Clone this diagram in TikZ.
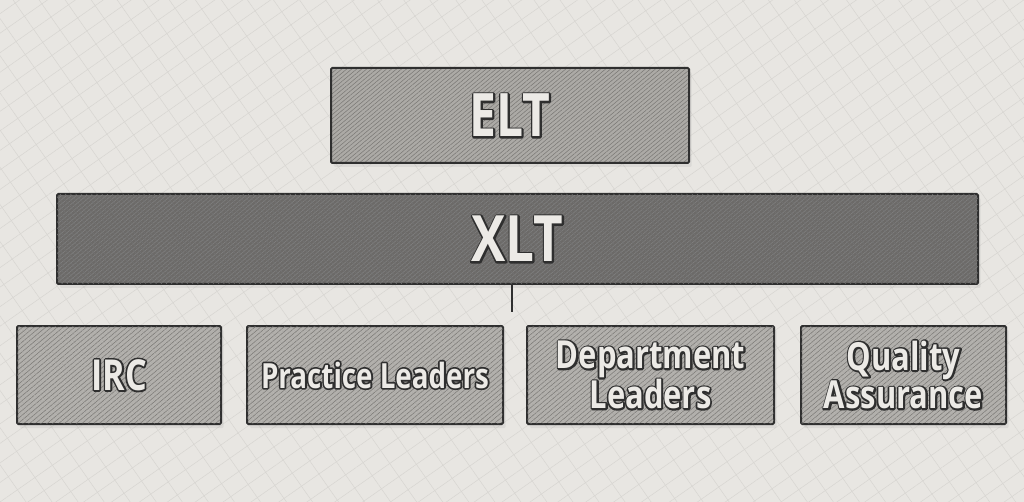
\documentclass[tikz,border=0pt]{standalone}
\usepackage{fontspec}
\setmainfont[FakeStretch=0.8]{Open Sans}
\usetikzlibrary{patterns.meta,shadows}
\definecolor{bgc}{HTML}{E8E6E2}
\definecolor{bgline}{HTML}{D8D6D2}
\definecolor{lightbox}{HTML}{B2B0AC}
\definecolor{midbox}{HTML}{ACAAA6}
\definecolor{darkbox}{HTML}{6C6A68}
\definecolor{edge}{HTML}{2F2F2F}
\definecolor{txt}{HTML}{ECEAE6}
\definecolor{hatch}{HTML}{7A7875}
\newcommand{\outl}[1]{\makebox[0pt][l]{\color{edge}\special{pdf:literal direct 2.6 w 1 j 2 Tr}#1\special{pdf:literal direct 0 Tr}}{\color{txt}#1}}
\tikzset{
  x=0.75pt, y=-0.75pt,
  box/.style={draw=edge, line width=1.5pt, rounded corners=1pt, inner sep=0pt, outer sep=0pt,
    align=center, font=\bfseries,
    drop shadow={opacity=0.12, shadow xshift=2pt, shadow yshift=-3pt}},
  eltbox/.style={box, preaction={fill=midbox},
    pattern={Lines[angle=40,distance=2.4pt,line width=0.4pt]}, pattern color=hatch},
  xltbox/.style={box, preaction={fill=darkbox},
    postaction={pattern={Lines[angle=-50,distance=3pt,line width=0.35pt]}, pattern color=black!55},
    pattern={Lines[angle=40,distance=2.4pt,line width=0.45pt]}, pattern color=black!50},
  subbox/.style={box, preaction={fill=lightbox},
    postaction={pattern={Lines[angle=-50,distance=4pt,line width=0.3pt]}, pattern color=hatch!70},
    pattern={Lines[angle=40,distance=2.8pt,line width=0.4pt]}, pattern color=hatch},
  big/.style={font=\fontsize{45}{45}\bfseries\selectfont},
  bigger/.style={font=\fontsize{48}{48}\bfseries\selectfont},
  small/.style={font=\fontsize{26}{25}\bfseries\selectfont},
  medium/.style={font=\fontsize{29}{25}\bfseries\selectfont},
  large/.style={font=\fontsize{32}{32}\bfseries\selectfont},
  link/.style={draw=edge, line width=1pt}
}
\begin{document}
\begin{tikzpicture}
\fill[bgc] (0,0) rectangle (1024,502);
\fill[pattern={Lines[angle=35,distance=12pt,line width=0.4pt]}, pattern color=bgline] (0,0) rectangle (1024,502);
\fill[pattern={Lines[angle=-55,distance=16pt,line width=0.4pt]}, pattern color=bgline] (0,0) rectangle (1024,502);
\useasboundingbox (0,0) rectangle (1024,502);

\node[eltbox, big, minimum width=268.5pt, minimum height=71.25pt] (elt) at (510,115.5) {\outl{ELT}};
\node[xltbox, bigger, minimum width=690.75pt, minimum height=67.5pt] (xlt) at (517.5,239) {\outl{XLT}};

\node[subbox, large, minimum width=153pt, minimum height=73.5pt] (irc) at (119,375) {\outl{IRC}};
\node[subbox, small, minimum width=192pt, minimum height=73.5pt] (pl) at (375,375) {\outl{Practice Leaders}};
\node[subbox, medium, minimum width=185.25pt, minimum height=73.5pt] (dl) at (650.5,375) {\outl{Department}\\\outl{Leaders}};
\node[subbox, medium, minimum width=153.75pt, minimum height=73.5pt] (qa) at (903.5,375) {\outl{Quality}\\\outl{Assurance}};

\coordinate (cb) at (512,312);
\draw[link] (cb |- xlt.south) -- (cb);
\end{tikzpicture}
\end{document}
